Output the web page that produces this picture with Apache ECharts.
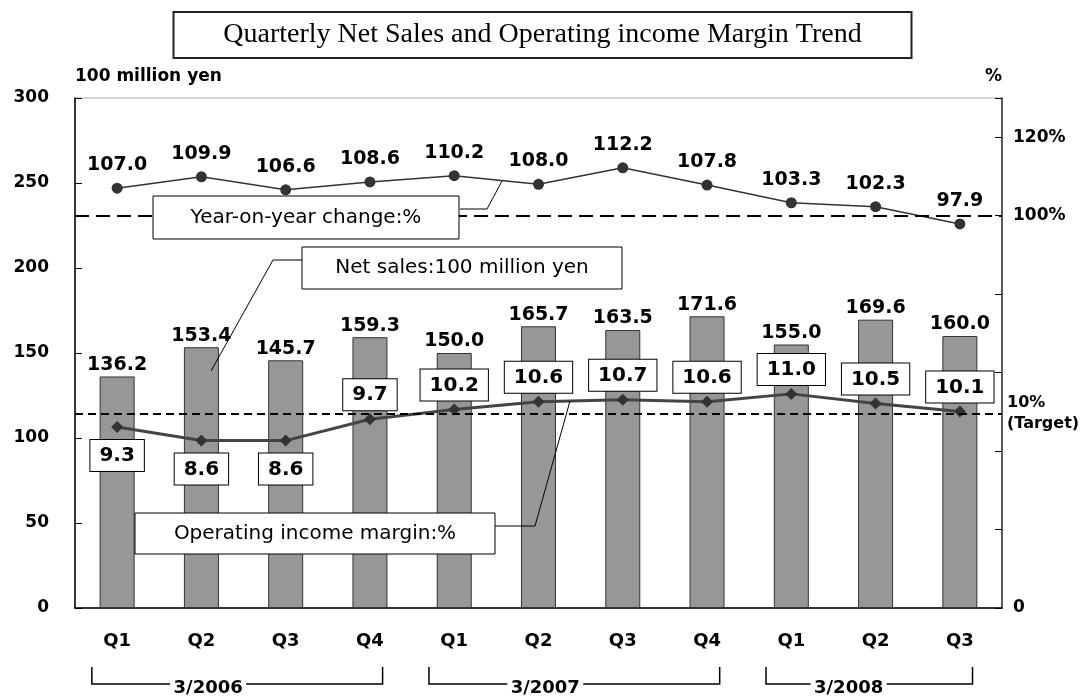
<!DOCTYPE html>
<html lang="en">
<head>
    <meta charset="UTF-8">
    <title>Quarterly Net Sales and Operating income Margin Trend</title>
    <script src="https://cdn.jsdelivr.net/npm/echarts@6/dist/echarts.min.js"></script>
    <style>
        html, body { margin: 0; padding: 0; background: #fff; }
        #chart { width: 1085px; height: 696px; }
    </style>
</head>
<body>
<div id="chart"></div>

<script>
    // data
    const quarters = ['Q1', 'Q2', 'Q3', 'Q4', 'Q1', 'Q2', 'Q3', 'Q4', 'Q1', 'Q2', 'Q3'];
    const netSales = [136.2, 153.4, 145.7, 159.3, 150.0, 165.7, 163.5, 171.6, 155.0, 169.6, 160.0];
    const yoyChange = [107.0, 109.9, 106.6, 108.6, 110.2, 108.0, 112.2, 107.8, 103.3, 102.3, 97.9];
    const opMargin = [9.3, 8.6, 8.6, 9.7, 10.2, 10.6, 10.7, 10.6, 11.0, 10.5, 10.1];
    const fiscalYears = ['3/2006', '3/2007', '3/2008'];
    const fiscalFirst = [0, 4, 8];
    const fiscalLast = [3, 7, 10];
    const yoyBase = 100;
    const marginTarget = 10;

    const font = 'DejaVu Sans';
    const chart = echarts.init(document.getElementById('chart'));

    const marginItems = opMargin.map((v, i) => ({
        value: v,
        label: i < 3 ? { position: 'bottom', distance: 7 } : { position: 'top', distance: 3 }
    }));

    chart.setOption({
        backgroundColor: '#fff',
        animation: false,
        title: {
            text: 'Quarterly Net Sales and Operating income Margin Trend',
            left: 'center',
            top: 12,
            padding: [9, 50, 9, 50],
            borderColor: '#222',
            borderWidth: 2,
            textStyle: { fontFamily: 'Liberation Serif', fontWeight: 'normal', fontSize: 28, color: '#000' }
        },
        grid: {
            left: 75, right: 83, top: 98, bottom: 88,
            show: true, borderColor: '#aaa', borderWidth: 1
        },
        xAxis: {
            type: 'category',
            data: quarters,
            axisLine: { lineStyle: { color: '#000', width: 1.5 } },
            axisTick: { inside: true, length: 5, lineStyle: { color: '#000' } },
            axisLabel: { margin: 24, color: '#000', fontFamily: font, fontWeight: 'bold', fontSize: 18 }
        },
        yAxis: [
            {
                type: 'value', min: 0, max: 300, interval: 50,
                name: '100 million yen', nameLocation: 'end', nameGap: 13,
                nameTextStyle: { align: 'left', color: '#000', fontFamily: font, fontWeight: 'bold', fontSize: 17 },
                splitLine: { show: false },
                axisLine: { show: true, lineStyle: { color: '#000', width: 1.5 } },
                axisTick: { show: true, inside: true, length: 7, lineStyle: { color: '#000' } },
                axisLabel: { margin: 26, color: '#000', fontFamily: font, fontWeight: 'bold', fontSize: 17 }
            },
            {
                type: 'value', min: 0, max: 130, interval: 20, position: 'right',
                name: '%', nameLocation: 'end', nameGap: 13,
                nameTextStyle: { align: 'right', color: '#000', fontFamily: font, fontWeight: 'bold', fontSize: 17 },
                splitLine: { show: false },
                axisLine: { show: true, lineStyle: { color: '#333', width: 1.5 } },
                axisTick: { show: true, inside: true, length: 7, lineStyle: { color: '#000' } },
                axisLabel: {
                    margin: 11, color: '#000', fontFamily: font, fontWeight: 'bold', fontSize: 17,
                    formatter: v => (v === 0 ? '0' : (v === 100 || v === 120) ? v + '%' : '')
                }
            },
            {
                // operating margin scale, not drawn
                type: 'value', min: 0, max: 26.2, show: false
            }
        ],
        series: [
            {
                name: 'Net sales',
                type: 'bar',
                data: netSales,
                barWidth: 35,
                itemStyle: { color: '#979797', borderColor: '#333', borderWidth: 1 },
                label: {
                    show: true, position: 'top', distance: 2,
                    color: '#000', fontFamily: font, fontWeight: 'bold', fontSize: 19,
                    formatter: p => p.value.toFixed(1)
                },
                z: 2
            },
            {
                name: 'Operating income margin',
                type: 'line',
                yAxisIndex: 2,
                data: marginItems,
                symbol: 'diamond',
                symbolSize: 12,
                lineStyle: { color: '#444', width: 3 },
                itemStyle: { color: '#333' },
                label: {
                    show: true,
                    color: '#000', fontFamily: font, fontWeight: 'bold', fontSize: 20,
                    backgroundColor: '#fff', borderColor: '#000', borderWidth: 1,
                    padding: [6, 9, 5, 9],
                    formatter: p => p.value.toFixed(1)
                },
                markLine: {
                    silent: true,
                    symbol: 'none',
                    lineStyle: { color: '#000', type: [8, 5], width: 2 },
                    label: {
                        show: true, position: 'end', distance: 5,
                        formatter: '10%\n(Target)',
                        color: '#000', fontFamily: font, fontWeight: 'bold', fontSize: 16,
                        lineHeight: 21, padding: [21, 0, 0, 0]
                    },
                    data: [{ yAxis: marginTarget }]
                },
                z: 4
            },
            {
                name: 'Year-on-year change',
                type: 'line',
                yAxisIndex: 1,
                data: yoyChange,
                symbol: 'circle',
                symbolSize: 11,
                lineStyle: { color: '#333', width: 1.5 },
                itemStyle: { color: '#333' },
                label: {
                    show: true, position: 'top', distance: 8,
                    color: '#000', fontFamily: font, fontWeight: 'bold', fontSize: 19,
                    formatter: p => p.value.toFixed(1)
                },
                markLine: {
                    silent: true,
                    symbol: 'none',
                    lineStyle: { color: '#000', type: [14, 7], width: 2 },
                    label: { show: false },
                    data: [{ yAxis: yoyBase }]
                },
                z: 4
            }
        ]
    });

    // callout boxes with leader lines, and fiscal-year brackets under the axis
    function callout(x, y, w, h, text, leader) {
        return [
            { type: 'polyline', z: 100, shape: { points: leader }, style: { stroke: '#000', lineWidth: 1, fill: null } },
            { type: 'rect', z: 101, shape: { x: x, y: y, width: w, height: h }, style: { fill: '#fff', stroke: '#000', lineWidth: 1 } },
            {
                type: 'text', z: 102, x: x + w / 2, y: y + h / 2,
                style: { text: text, fill: '#000', font: 'normal 20px "DejaVu Sans"', align: 'center', verticalAlign: 'middle' }
            }
        ];
    }

    let elements = [];
    elements = elements.concat(callout(153, 196, 306, 43, 'Year-on-year change:%', [[460, 209], [487, 209], [502, 181]]));
    elements = elements.concat(callout(302, 247, 320, 42, 'Net sales:100 million yen', [[302, 260], [273, 260], [211, 371]]));
    elements = elements.concat(callout(135, 513, 360, 41, 'Operating income margin:%', [[495, 526], [535, 526], [570, 401]]));

    const step = chart.convertToPixel({ xAxisIndex: 0 }, 1) - chart.convertToPixel({ xAxisIndex: 0 }, 0);
    fiscalYears.forEach((label, i) => {
        const x1 = chart.convertToPixel({ xAxisIndex: 0 }, fiscalFirst[i]) - step * 0.3;
        const x2 = chart.convertToPixel({ xAxisIndex: 0 }, fiscalLast[i]) + step * 0.15;
        const mid = x1 + (x2 - x1) * 0.4;
        elements.push(
            { type: 'polyline', shape: { points: [[x1, 667], [x1, 684], [mid - 38, 684]] }, style: { stroke: '#000', lineWidth: 1.5, fill: null } },
            { type: 'polyline', shape: { points: [[mid + 38, 684], [x2, 684], [x2, 667]] }, style: { stroke: '#000', lineWidth: 1.5, fill: null } },
            {
                type: 'text', x: mid, y: 688,
                style: { text: label, fill: '#000', font: 'bold 18px "DejaVu Sans"', align: 'center', verticalAlign: 'middle' }
            }
        );
    });

    chart.setOption({ graphic: elements });
</script>
</body>
</html>
